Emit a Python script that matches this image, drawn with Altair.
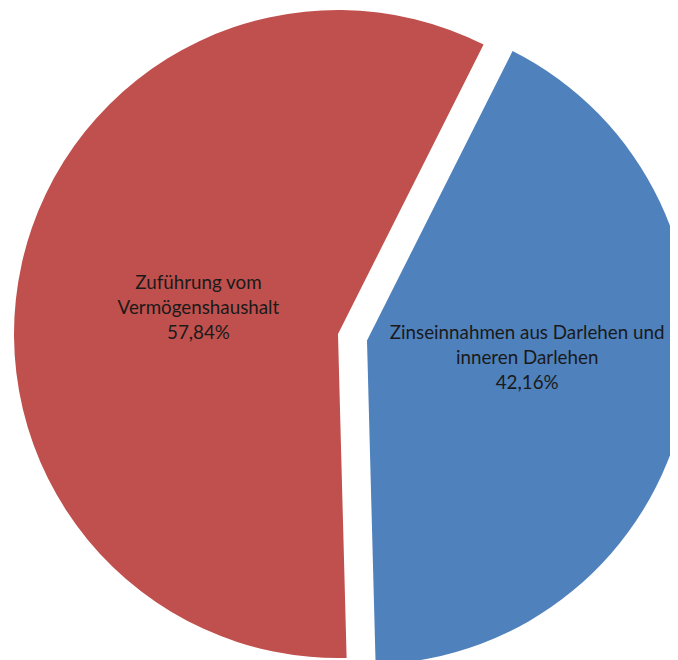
import altair as alt
import pandas as pd
import math

categories = ["Zinseinnahmen aus Darlehen und\ninneren Darlehen",
              "Zuführung vom\nVermögenshaushalt"]
shares = [42.16, 57.84]
share_labels = ["42,16%", "57,84%"]
order = [0, 1]
colors = ["#4F81BD", "#C0504D"]

df = pd.DataFrame({
    "category": categories,
    "share": shares,
    "plabel": share_labels,
    "order": order,
})
df["label"] = df["category"] + "\n" + df["plabel"]

start = math.radians(26.7)
theta_scale = alt.Scale(domain=[0, 100], range=[start, start + 2 * math.pi])

W, H = 662, 652
R = 324
cx, cy = 330, 326          # red (main) centre
ex, ey = 29, 6.5           # explosion offset of blue slice

base = alt.Chart(df).transform_window(
    cum="sum(share)", sort=[alt.SortField("order")]
).transform_calculate(
    t0="datum.cum - datum.share",
    tm="datum.cum - datum.share / 2",
)

def arc_layer(i, x, y):
    return base.transform_filter(alt.datum.order == i).mark_arc(
        radius=R, x=x, y=y, color=colors[i]
    ).encode(
        theta=alt.Theta("t0:Q", scale=theta_scale),
        theta2="cum:Q",
    )

def text_layer(i, x, y, r, dx, dy):
    return base.transform_filter(alt.datum.order == i).mark_text(
        x=x, y=y, radius=r, dx=dx, dy=dy, fontSize=18.8, font="Lato",
        color="#1a1a1a", align="center", baseline="middle",
        lineBreak="\n", lineHeight=25
    ).encode(
        theta=alt.Theta("tm:Q", scale=theta_scale),
        text="label:N",
    )

chart = alt.layer(
    arc_layer(1, cx, cy),
    arc_layer(0, cx + ex, cy + ey),
    text_layer(1, cx, cy, 143, 0, -20),
    text_layer(0, cx + ex, cy + ey, 160, 4, -42),
).properties(
    width=W, height=H, padding=0,
    autosize=alt.AutoSizeParams(type="none"),
).configure_view(stroke=None)

chart.save("out.html", embed_options={"renderer": "svg", "actions": False})
